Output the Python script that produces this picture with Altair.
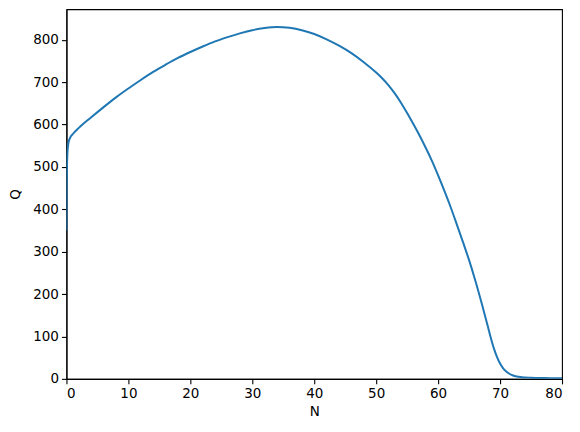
import altair as alt
import pandas as pd

N_vals = [0, 0.05, 0.15, 0.3, 0.6, 1, 2, 4, 6, 8, 10, 12, 14, 16, 18, 20, 22, 24, 26, 28,
          30, 32, 34, 36, 38, 40, 42, 44, 46, 48, 50, 51, 52, 53, 54, 55, 56, 57, 58, 59,
          60, 61, 62, 63, 64, 65, 66, 67, 68, 68.5, 69, 69.5, 70, 70.5, 71, 71.5, 72,
          72.7, 73.5, 75, 77, 80]
Q_vals = [350, 470, 530, 555, 569, 577, 592, 617, 641, 664, 685, 705, 724, 741, 757, 771,
          784, 796, 806, 815, 822.5, 827.5, 830, 828, 822.5, 813.5, 801, 786, 768.5, 747,
          722.5, 708.5, 692.5, 673.5, 651.5, 627, 601, 574, 545, 514, 480, 444, 406, 365,
          323, 280, 232, 180, 125, 97, 72, 52, 36, 25, 17.5, 12, 8.5, 5.5, 4, 2.7, 1.8, 1.2]
x_ticks = [0, 10, 20, 30, 40, 50, 60, 70, 80]
y_ticks = [0, 100, 200, 300, 400, 500, 600, 700, 800]

df = pd.DataFrame({"N": N_vals, "Q": Q_vals})

axis_common = dict(
    grid=False, domainColor="black", tickColor="black", labelColor="black",
    titleColor="black", labelFont="DejaVu Sans", titleFont="DejaVu Sans",
    labelFontSize=13.5, titleFontSize=13.5, titleFontWeight="normal",
    tickSize=5, domainWidth=1.1, tickWidth=1.1,
)

chart = alt.Chart(df).mark_line(color="#1f77b4", strokeWidth=2, interpolate="monotone", clip=True).encode(
    x=alt.X("N:Q", scale=alt.Scale(domain=[0, 80], nice=False, zero=False),
            axis=alt.Axis(values=x_ticks, labelPadding=3, titlePadding=4, **axis_common), title="N"),
    y=alt.Y("Q:Q", scale=alt.Scale(domain=[0, 872], nice=False),
            axis=alt.Axis(values=y_ticks, labelPadding=3, titlePadding=10, **axis_common), title="Q"),
).properties(
    width=496, height=370,
    autosize=alt.AutoSizeParams(type="none"),
    padding={"left": 58.5, "top": 1, "right": 10, "bottom": 45},
).configure(background="white").configure_view(stroke="black", strokeWidth=1.1)

chart.save("out.html", embed_options={"renderer": "svg", "actions": False})
